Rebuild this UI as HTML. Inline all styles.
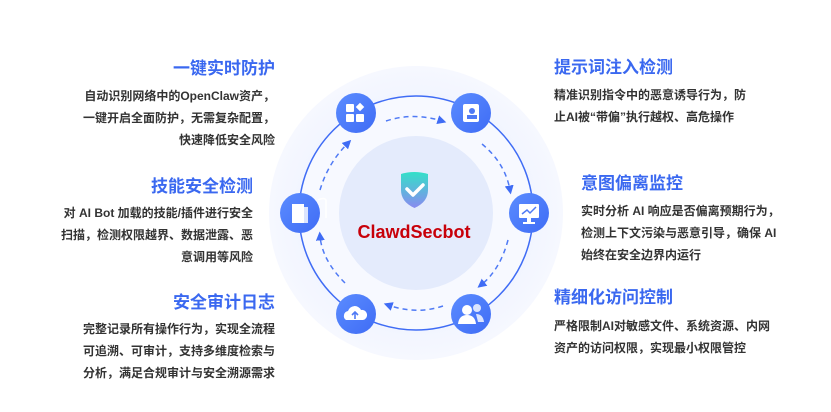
<!DOCTYPE html>
<html><head><meta charset="utf-8"><style>
body{margin:0;width:831px;height:412px;background:#fff;overflow:hidden;position:relative;font-family:"Liberation Sans","Noto Sans CJK SC",sans-serif}
.t{position:absolute;font-size:17px;font-weight:bold;color:#3a68f0;white-space:nowrap;line-height:20px}
.b{position:absolute;font-size:12px;font-weight:bold;color:#333;line-height:22px;white-space:nowrap}
.r{text-align:right}
</style></head><body>
<div class="t r" style="right:556px;top:59px">一键实时防护</div>
<div class="b r" style="right:556px;top:85px">自动识别网络中的OpenClaw资产，<br>一键开启全面防护，无需复杂配置，<br>快速降低安全风险</div>
<div class="t r" style="right:578px;top:177px">技能安全检测</div>
<div class="b r" style="right:578px;top:202px">对 AI Bot 加载的技能/插件进行安全<br>扫描，检测权限越界、数据泄露、恶<br>意调用等风险</div>
<div class="t r" style="right:556px;top:293px">安全审计日志</div>
<div class="b r" style="right:556px;top:318px">完整记录所有操作行为，实现全流程<br>可追溯、可审计，支持多维度检索与<br>分析，满足合规审计与安全溯源需求</div>

<div class="t" style="left:554px;top:58px">提示词注入检测</div>
<div class="b" style="left:554px;top:84px">精准识别指令中的恶意诱导行为，防<br>止AI被“带偏”执行越权、高危操作</div>
<div class="t" style="left:581px;top:174px">意图偏离监控</div>
<div class="b" style="left:581px;top:200px">实时分析 AI 响应是否偏离预期行为，<br>检测上下文污染与恶意引导，确保 AI<br>始终在安全边界内运行</div>
<div class="t" style="left:554px;top:288px">精细化访问控制</div>
<div class="b" style="left:554px;top:315px">严格限制AI对敏感文件、系统资源、内网<br>资产的访问权限，实现最小权限管控</div>

<svg width="831" height="412" style="position:absolute;left:0;top:0">
<defs>
<radialGradient id="og" cx="50%" cy="50%" r="50%"><stop offset="0.6" stop-color="#eef2ff"/><stop offset="1" stop-color="#f6f8ff"/></radialGradient>
<linearGradient id="ng" x1="0" y1="0" x2="1" y2="1"><stop offset="0" stop-color="#5b8cff"/><stop offset="1" stop-color="#3f6cf5"/></linearGradient>
<linearGradient id="sg" x1="0" y1="0" x2="0" y2="1"><stop offset="0" stop-color="#33e0c8"/><stop offset="1" stop-color="#8a8af0"/></linearGradient>
<marker id="ar" markerWidth="6" markerHeight="6" refX="3" refY="3" orient="auto"><path d="M0,0 L6,3 L0,6 z" fill="#3f6cf5"/></marker>
</defs>
<circle cx="416" cy="213" r="147" fill="url(#og)"/>
<circle cx="416" cy="213" r="117" fill="#f7f9ff" stroke="#3f6cf5" stroke-width="1.5"/>
<circle cx="416" cy="213" r="77" fill="#e4ebfc"/>
<g fill="none" stroke="#4f7af5" stroke-width="1.5" stroke-dasharray="5,4" marker-end="url(#ar)">
<path d="M386,121 Q413,112 442,121"/>
<path d="M482,144 Q505,163 510,190"/>
<path d="M508,240 Q500,270 481,285"/>
<path d="M443,306 Q416,315 388,305"/>
<path d="M345,283 Q322,260 320,236"/>
<path d="M320,190 Q328,163 348,143"/>
</g>
<g fill="url(#ng)">
<circle cx="356" cy="113" r="20"/><circle cx="471" cy="113" r="20"/>
<circle cx="529" cy="213" r="20"/><circle cx="471" cy="314" r="20"/>
<circle cx="356" cy="314" r="20"/><circle cx="300" cy="213" r="20"/>
</g>
<g fill="#fff">
<rect x="346" y="104" width="8" height="8" rx="1"/><rect x="346" y="114" width="8" height="8" rx="1"/><rect x="356" y="114" width="8" height="8" rx="1"/><rect x="357" y="104" width="6" height="6" transform="rotate(45 360 107)"/>
<rect x="463" y="104" width="16" height="18" rx="2"/><circle cx="472" cy="111" r="3" fill="#4f7af5"/><rect x="467" y="115" width="10" height="4" fill="#4f7af5"/>
<rect x="519" y="204" width="20" height="14" rx="1"/><rect x="527" y="218" width="4" height="4"/><rect x="523" y="222" width="12" height="2"/>
<circle cx="467" cy="310" r="5"/><path d="M458,324 q1,-9 9,-9 q8,0 9,9z"/><circle cx="477" cy="308" r="4" opacity=".8"/><path d="M476,314 q7,0 8,8 h-6z" opacity=".8"/>
<path d="M346,320 a5,5 0 0 1 2,-9 a7,7 0 0 1 13,-1 a5,5 0 0 1 2,10z"/>
<path d="M292,204 h12 v19 h-12z"/><path d="M304,207 h4 v16 h-4z" opacity=".8"/>
</g>
<path d="M355,319 v-6 M352,315 l3,-3 l3,3" stroke="#4f7af5" stroke-width="1.6" fill="none"/>
<path d="M318,200 q6,-3 8,0 v18" stroke="#fff" stroke-width="1.5" fill="none"/>
<path d="M522,214 l5,-4 l3,3 l6,-6" stroke="#4f7af5" stroke-width="1.5" fill="none"/>
<path d="M401,174 q13,-4 27,0 v16 q0,12 -13.5,18 q-13.5,-6 -13.5,-18z" fill="url(#sg)"/>
<path d="M407,189 l6,6 l10,-10" stroke="#fff" stroke-width="3.5" fill="none" stroke-linecap="round" stroke-linejoin="round"/>
<text x="414" y="238" text-anchor="middle" font-family="Liberation Sans,sans-serif" font-weight="bold" font-size="18" fill="#c8000a">ClawdSecbot</text>
</svg>
</body></html>
